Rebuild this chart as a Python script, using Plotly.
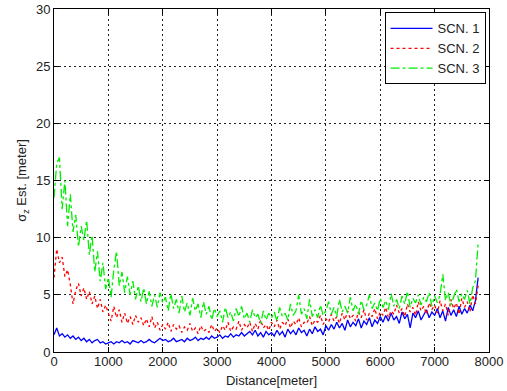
import numpy as np
import plotly.graph_objects as go

# Sample distances [meter]
distance = list(range(0, 7801, 50))

scn1 = [1.5, 2.1, 1.4, 1.6, 1.3, 1.5, 1.2, 1.4, 1.1, 1.3, 1.0, 1.2, 0.9, 1.1, 0.8, 1.0, 1.1, 0.8, 0.9, 0.7, 0.8,
        0.9, 0.7, 0.9, 0.8, 1.0, 0.8, 0.9, 0.7, 1.0, 0.9, 0.8, 1.0, 0.8, 0.9, 1.1, 0.9, 0.8, 1.0, 1.2, 1.0,
        1.1, 0.9, 1.0, 1.2, 0.9, 1.0, 1.1, 0.9, 1.2, 1.0, 1.1, 1.3, 1.0, 1.2, 1.1, 1.3, 1.1, 1.4, 1.2, 1.3,
        1.5, 1.2, 1.4, 1.3, 1.6, 1.3, 1.5, 1.4, 1.7, 1.4, 1.6, 1.8, 1.5, 1.9, 1.4, 1.7, 1.3, 1.8, 1.5, 1.7,
        1.4, 1.9, 1.5, 1.8, 1.3, 2.0, 1.6, 1.9, 1.5, 2.1, 1.7, 1.9, 1.4, 2.0, 1.6, 2.2, 1.8, 2.0, 1.5, 2.3,
        1.9, 2.4, 2.0, 2.6, 2.1, 2.5, 1.9, 2.8, 2.2, 2.6, 2.3, 2.9, 2.1, 2.7, 2.4, 3.0, 2.2, 2.8, 2.5, 3.1,
        2.6, 3.2, 2.7, 3.4, 2.8, 3.1, 2.5, 3.5, 2.9, 3.3, 2.1, 3.4, 3.0, 3.6, 2.8, 3.3, 3.7, 3.0, 3.5, 3.2,
        3.8, 3.0, 3.6, 2.7, 3.9, 3.2, 3.7, 3.1, 4.0, 3.3, 3.8, 3.4, 4.1, 3.6, 4.5, 6.5]

scn2 = [6.5, 9.0, 7.8, 8.3, 6.6, 7.2, 5.9, 4.2, 5.4, 6.0, 4.9, 5.6, 4.6, 5.3, 4.2, 4.9, 3.8, 4.6, 3.5, 4.1, 3.4,
        2.7, 4.0, 3.0, 3.7, 2.6, 3.4, 2.5, 3.1, 2.4, 3.2, 2.6, 3.0, 2.3, 2.9, 2.2, 3.1, 2.1, 2.6, 1.9, 2.4,
        2.0, 2.6, 1.8, 2.4, 2.0, 2.3, 1.7, 2.2, 1.9, 2.5, 1.8, 2.1, 1.6, 2.3, 1.8, 2.0, 1.7, 2.4, 1.8, 2.1,
        1.7, 2.3, 1.9, 2.6, 1.8, 2.2, 2.0, 2.7, 1.9, 2.4, 2.1, 2.6, 1.8, 2.5, 2.0, 2.8, 2.1, 2.4, 1.9, 2.6,
        2.2, 2.8, 2.0, 2.6, 2.3, 2.9, 2.1, 2.7, 2.4, 3.0, 2.2, 2.6, 2.5, 3.1, 2.3, 2.8, 2.6, 3.2, 2.4, 2.9,
        2.6, 3.3, 2.7, 3.1, 2.5, 3.4, 2.8, 3.6, 2.9, 3.2, 2.7, 3.5, 3.0, 3.7, 2.8, 3.4, 3.1, 3.8, 2.9, 3.5,
        3.2, 3.9, 3.0, 3.6, 3.3, 4.1, 3.4, 3.8, 3.1, 4.2, 3.5, 3.9, 3.2, 4.4, 3.6, 4.0, 3.3, 4.3, 3.7, 4.1,
        3.4, 4.5, 3.6, 4.2, 3.2, 4.6, 3.8, 4.3, 3.3, 4.7, 3.9, 4.4, 3.5, 5.0, 4.2, 5.8]

scn3 = [13.5, 16.5, 17.0, 12.5, 15.0, 11.0, 13.8, 10.5, 12.0, 9.2, 11.0, 9.8, 11.5, 8.5, 10.2, 7.0, 8.8, 6.2, 7.8, 5.5, 6.5,
        4.8, 7.2, 8.8, 5.8, 7.0, 5.2, 6.6, 5.0, 6.2, 4.6, 5.8, 4.4, 5.6, 4.2, 5.3, 4.0, 5.0, 3.9, 5.2, 4.3,
        4.8, 3.6, 5.1, 3.8, 4.6, 3.4, 4.9, 3.5, 4.3, 3.2, 4.7, 3.6, 4.2, 3.0, 4.4, 3.3, 4.0, 2.8, 3.8, 3.1,
        3.6, 2.6, 3.9, 3.0, 3.5, 2.7, 3.8, 3.1, 4.0, 2.9, 3.4, 2.6, 3.7, 3.0, 3.3, 2.5, 3.6, 2.8, 3.4, 3.0,
        3.5, 2.7, 3.9, 3.1, 3.4, 2.8, 4.2, 3.2, 3.6, 5.0, 3.3, 3.8, 2.9, 4.6, 3.1, 3.7, 3.0, 4.1, 3.2, 3.6,
        4.4, 3.3, 3.9, 3.1, 4.6, 3.5, 4.0, 3.4, 4.8, 3.6, 4.2, 3.3, 4.5, 3.7, 4.1, 5.0, 3.8, 4.3, 3.6, 4.7,
        3.9, 4.5, 3.7, 5.1, 4.0, 4.6, 3.8, 4.9, 4.2, 5.3, 3.9, 4.7, 4.3, 5.0, 4.1, 4.8, 4.4, 5.2, 4.0, 4.9,
        4.3, 5.0, 6.8, 4.5, 5.2, 4.1, 4.9, 5.5, 4.4, 5.1, 4.6, 5.4, 4.2, 5.6, 6.2, 9.5]

series_names = ["SCN. 1", "SCN. 2", "SCN. 3"]
x_ticks = [0, 1000, 2000, 3000, 4000, 5000, 6000, 7000, 8000]
y_ticks = [0, 5, 10, 15, 20, 25, 30]

font_family = "Liberation Sans, Arial, sans-serif"

fig = go.Figure()
fig.add_trace(go.Scatter(x=distance, y=scn1, mode="lines", name=series_names[0],
                         line=dict(color="#0000ff", width=1.3, dash="solid")))
fig.add_trace(go.Scatter(x=distance, y=scn2, mode="lines", name=series_names[1],
                         line=dict(color="#ff0000", width=1.3, dash="dot")))
fig.add_trace(go.Scatter(x=distance, y=scn3, mode="lines", name=series_names[2],
                         line=dict(color="#00ee00", width=1.3, dash="dashdot")))

axis_common = dict(
    showline=True, linecolor="black", linewidth=1, mirror="allticks",
    ticks="inside", ticklen=5, tickcolor="black",
    showgrid=True, gridcolor="#222222", gridwidth=1, griddash="2px,3px",
    zeroline=False, automargin=False,
    tickfont=dict(family=font_family, size=13, color="#222"),
)

fig.update_xaxes(range=[0, 8000], tickvals=x_ticks, ticklabelstandoff=-3,
                 title=dict(text="Distance[meter]", font=dict(family=font_family, size=13, color="#222"), standoff=8),
                 **axis_common)
fig.update_yaxes(range=[0, 30], tickvals=y_ticks,
                 title=dict(text="σ<sub>z</sub> Est. [meter]", font=dict(family=font_family, size=13, color="#222"), standoff=6),
                 **axis_common)

fig.update_layout(
    width=507, height=391,
    margin=dict(l=54, r=18, t=9, b=39, autoexpand=False),
    paper_bgcolor="white", plot_bgcolor="white",
    showlegend=True,
    legend=dict(x=0.992, y=0.99, xanchor="right", yanchor="top",
                bgcolor="white", bordercolor="black", borderwidth=1,
                font=dict(family=font_family, size=13, color="#222"),
                tracegroupgap=0, itemwidth=42),
)

fig.write_html("out.html")
